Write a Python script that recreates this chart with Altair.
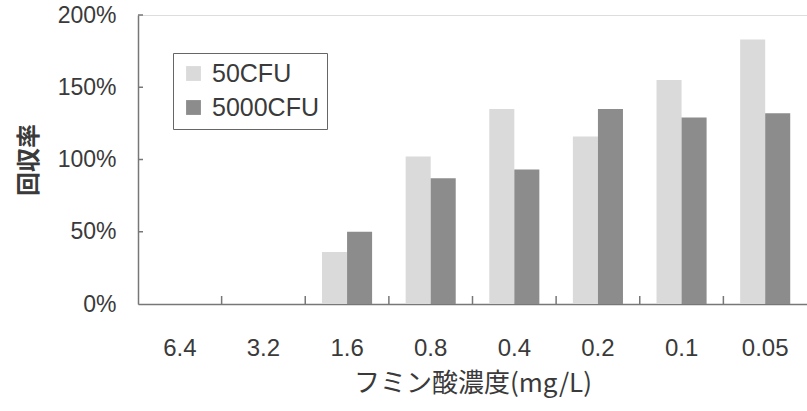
import altair as alt
import pandas as pd

conc = ["6.4", "3.2", "1.6", "0.8", "0.4", "0.2", "0.1", "0.05"]
series = ["50CFU", "5000CFU"]
v50 = [0, 0, 36, 102, 135, 116, 155, 183]
v5000 = [0, 0, 50, 87, 93, 135, 129, 132]
y_ticks = [0, 50, 100, 150, 200]

rows = []
for c, a, b in zip(conc, v50, v5000):
    rows.append({"conc": c, "series": series[0], "value": a})
    rows.append({"conc": c, "series": series[1], "value": b})
df = pd.DataFrame(rows)

tick_df = pd.DataFrame({"conc": conc[1:]})
ytick_df = pd.DataFrame({"v": y_ticks[1:]})

TXT = "#3a3a3a"
LINE = "#777777"

xscale = alt.Scale(domain=conc, paddingInner=0, paddingOuter=0)
yscale = alt.Scale(domain=[0, 200], nice=False)

bars = alt.Chart(df).mark_bar(stroke=None).encode(
    x=alt.X("conc:N", scale=xscale, sort=conc,
            axis=alt.Axis(title="フミン酸濃度(mg/L)", labelAngle=0, tickSize=0,
                          labelFont="Liberation Sans", labelFontSize=24, labelColor=TXT,
                          labelPadding=32, domainColor=LINE, domainWidth=1.5,
                          titleFont="Noto Sans CJK JP", titleFontSize=26, titleFontWeight="normal",
                          titleColor=TXT, titlePadding=10)),
    xOffset=alt.XOffset("series:N", sort=series,
                        scale=alt.Scale(paddingInner=0, paddingOuter=0.67)),
    y=alt.Y("value:Q", scale=yscale,
            axis=alt.Axis(title="回収率", values=y_ticks, labelExpr="datum.value + '%'",
                          tickSize=0, grid=False, labelFont="Liberation Sans", labelFontSize=23,
                          labelColor=TXT, labelPadding=22, domainColor=LINE, domainWidth=1.5,
                          titleFont="Noto Sans CJK JP", titleFontSize=24, titleFontWeight="bold",
                          titleColor=TXT, titlePadding=16)),
    color=alt.Color("series:N", sort=series,
                    scale=alt.Scale(domain=series, range=["#dadada", "#8c8c8c"]),
                    legend=alt.Legend(title=None, orient="none", legendX=35, legendY=38,
                                      symbolType="square", symbolSize=220, symbolStrokeWidth=0,
                                      labelFont="Liberation Sans", labelFontSize=25, labelColor=TXT,
                                      labelOffset=6, rowPadding=8, padding=8,
                                      strokeColor="#666666", fillColor="white",
                                      labelLimit=300)),
)

xticks = alt.Chart(tick_df).mark_rule(color=LINE, strokeWidth=1.5).encode(
    x=alt.X("conc:N", scale=xscale, sort=conc, bandPosition=0),
    y=alt.value(281),
    y2=alt.value(289),
)

yticks = alt.Chart(ytick_df).mark_rule(color=LINE, strokeWidth=1.5).encode(
    y=alt.Y("v:Q", scale=yscale),
    x=alt.value(0),
    x2=alt.value(5),
)

chart = alt.layer(bars, xticks, yticks).properties(
    width=669, height=289,
    padding={"left": 138, "top": 15, "right": 0, "bottom": 107},
    autosize=alt.AutoSizeParams(type="none"),
).configure_view(stroke=None).configure(background="white")

chart.save("out.html", embed_options={"renderer": "svg", "actions": False})
